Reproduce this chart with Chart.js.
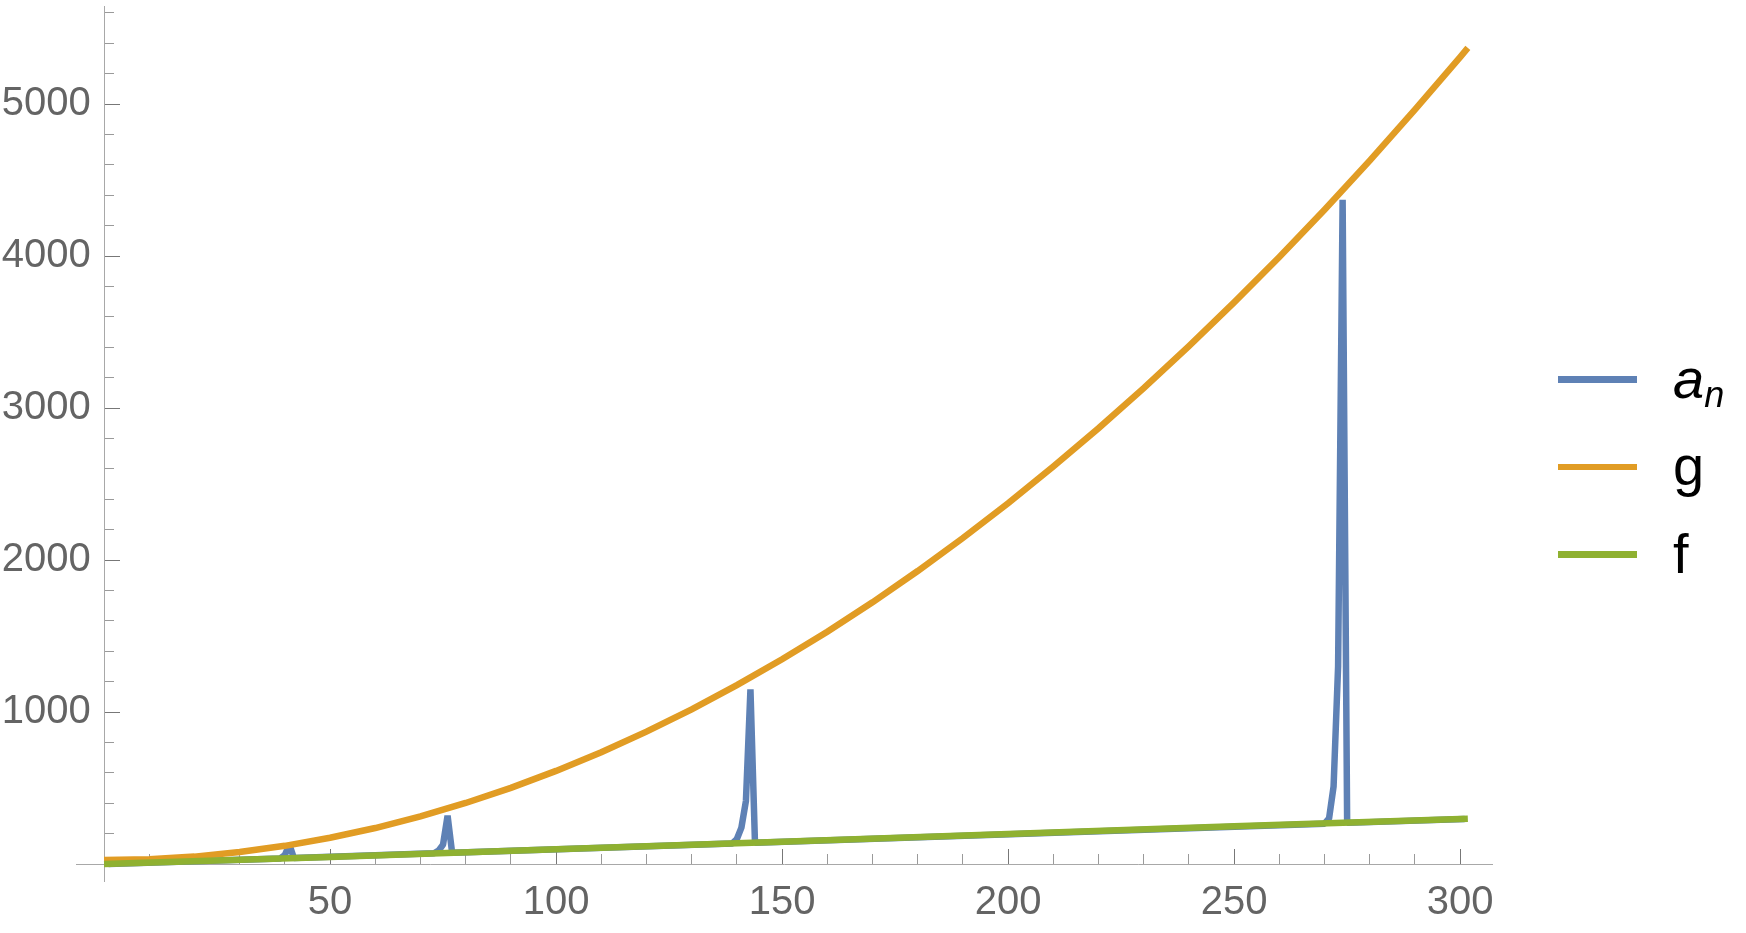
<!DOCTYPE html>
<html><head><meta charset="utf-8">
<script src="https://cdn.jsdelivr.net/npm/chart.js@4.4.1/dist/chart.umd.min.js"></script>
<style>
html,body{margin:0;padding:0;background:#fff;overflow:hidden}
#wrap{position:relative;width:1746px;height:933px;background:#fff}
canvas{position:absolute;left:0;top:0}
.leg{position:absolute;left:1558px;width:79px;height:6.5px}
.lab{position:absolute;left:1673px;font-family:'Liberation Sans',Arial,sans-serif;font-size:56px;line-height:56px;color:#000;white-space:nowrap}
.sub{position:relative;top:9px;font-size:36px;font-style:italic}
</style></head><body>
<div id="wrap">
<canvas id="c" width="1746" height="933"></canvas>
<div class="leg" style="top:376px;background:#5E81B5"></div>
<div class="leg" style="top:463.5px;background:#E19C24"></div>
<div class="leg" style="top:551px;background:#8FB131"></div>
<div class="lab" style="top:351px"><i>a</i><span class="sub">n</span></div>
<div class="lab" style="top:438px">g</div>
<div class="lab" style="top:526px">f</div>
</div>
<script>
// ---- data ----
const seriesNames = ['a_n', 'g', 'f'];

const aX = [1, 39, 40, 41, 42, 73, 74, 75, 76, 77, 139, 140, 141, 142, 143, 144, 270, 271, 272, 273, 274, 275, 301];
const aY = [1, 37, 60, 128, 40, 71, 88, 128, 318, 75, 136, 165, 240, 415, 1150, 141, 266, 300, 510, 1300, 4370, 271, 297];

const gX = [0, 10, 20, 30, 40, 50, 60, 70, 80, 90, 100, 110, 120, 130, 140, 150, 160, 170, 180, 190, 200, 210, 220, 230, 240, 250, 260, 270, 280, 290, 300, 301.7];
const gY = [26, 32, 49, 79, 120, 173, 237, 314, 402, 501, 613, 736, 871, 1018, 1177, 1347, 1529, 1722, 1928, 2145, 2374, 2615, 2867, 3131, 3407, 3695, 3994, 4305, 4628, 4963, 5309, 5369];

const fX = [0, 50, 100, 150, 200, 250, 301.7];
const fY = [0, 47, 97, 147, 197, 248, 298];

const xMajorTicks = [50, 100, 150, 200, 250, 300];
const xMinorTicks = [10, 20, 30, 40, 60, 70, 80, 90, 110, 120, 130, 140, 160, 170, 180, 190, 210, 220, 230, 240, 260, 270, 280, 290];
const yMajorTicks = [1000, 2000, 3000, 4000, 5000];
const yMinorTicks = [200, 400, 600, 800, 1200, 1400, 1600, 1800, 2200, 2400, 2600, 2800, 3200, 3400, 3600, 3800, 4200, 4400, 4600, 4800, 5200, 5400, 5600];

// ---- chart ----
const pts = (xs, ys) => xs.map((x, i) => ({x: x, y: ys[i]}));
const X_MIN = -6.2, X_MAX = 307.2, Y_MIN = -116, Y_MAX = 5645;
const Y_LABEL_AT = -2.94; // x value where the right edge of y tick labels sits
const labelFont = {family: "'Liberation Sans', Arial, sans-serif", size: 40};
const setTicks = arr => (s => { s.ticks = arr.map(v => ({value: v})); });
const noSpace = (s) => { if (s.isHorizontal()) s.height = 0; else s.width = 0;
  s.paddingTop = 0; s.paddingBottom = 0; s.paddingLeft = 0; s.paddingRight = 0; };
const LW = 6.5;

new Chart(document.getElementById('c'), {
  type: 'line',
  data: {
    datasets: [
      {label: seriesNames[0], data: pts(aX, aY), borderColor: '#5E81B5', borderWidth: LW, pointRadius: 0, borderJoinStyle: 'bevel', order: 3, xAxisID: 'x', yAxisID: 'y'},
      {label: seriesNames[1], data: pts(gX, gY), borderColor: '#E19C24', borderWidth: LW, pointRadius: 0, order: 2, xAxisID: 'x', yAxisID: 'y'},
      {label: seriesNames[2], data: pts(fX, fY), borderColor: '#8FB131', borderWidth: LW, pointRadius: 0, order: 1, xAxisID: 'x', yAxisID: 'y'}
    ]
  },
  options: {
    responsive: false,
    animation: false,
    events: [],
    layout: {padding: {left: 76, right: 253.3, top: 6, bottom: 51.3}},
    plugins: {legend: {display: false}, tooltip: {enabled: false}},
    scales: {
      x: {
        type: 'linear', axis: 'x', min: X_MIN, max: X_MAX, position: {y: 0},
        afterFit: noSpace,
        afterBuildTicks: setTicks(xMajorTicks),
        grid: {display: true, drawOnChartArea: false, drawTicks: true, tickLength: -16, tickColor: '#777777', tickWidth: 1},
        border: {display: true, color: '#a8a8a8', width: 1},
        ticks: {font: labelFont, color: '#646464', padding: 31, maxRotation: 0, autoSkip: false, callback: v => String(v)}
      },
      xMinor: {
        type: 'linear', axis: 'x', min: X_MIN, max: X_MAX, position: {y: 0},
        afterFit: noSpace,
        afterBuildTicks: setTicks(xMinorTicks),
        grid: {display: true, drawOnChartArea: false, drawTicks: true, tickLength: -10, tickColor: '#9a9a9a', tickWidth: 1},
        border: {display: false},
        ticks: {display: false}
      },
      y: {
        type: 'linear', axis: 'y', min: Y_MIN, max: Y_MAX, position: {x: 0},
        afterFit: noSpace,
        afterBuildTicks: setTicks(yMajorTicks),
        grid: {display: true, drawOnChartArea: false, drawTicks: true, tickLength: -16, tickColor: '#777777', tickWidth: 1},
        border: {display: true, color: '#a8a8a8', width: 1},
        ticks: {display: false}
      },
      yLabels: {
        type: 'linear', axis: 'y', min: Y_MIN, max: Y_MAX, position: {x: Y_LABEL_AT},
        afterFit: noSpace,
        afterBuildTicks: setTicks(yMajorTicks),
        grid: {display: false},
        border: {display: false},
        ticks: {font: labelFont, color: '#646464', padding: 0, autoSkip: false, callback: v => String(v)}
      },
      yMinor: {
        type: 'linear', axis: 'y', min: Y_MIN, max: Y_MAX, position: {x: 0},
        afterFit: noSpace,
        afterBuildTicks: setTicks(yMinorTicks),
        grid: {display: true, drawOnChartArea: false, drawTicks: true, tickLength: -10, tickColor: '#9a9a9a', tickWidth: 1},
        border: {display: false},
        ticks: {display: false}
      }
    }
  }
});
</script>
</body></html>
